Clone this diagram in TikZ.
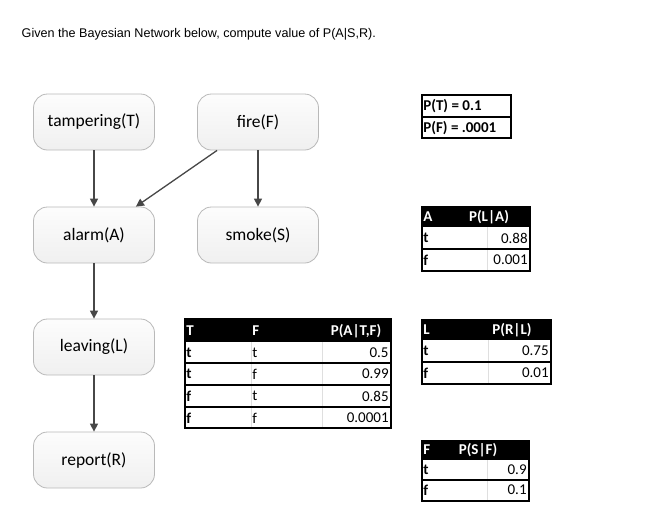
\documentclass[tikz,border=0pt]{standalone}
\usepackage{fontspec}
\setmainfont{Carlito}
\newfontfamily\titlefont{Liberation Sans}
\usetikzlibrary{arrows.meta}

\begin{document}
\begin{tikzpicture}[x=1pt,y=-1pt,thick,
        main node/.style={draw=gray!55,rounded corners=14pt,top color=gray!2,bottom color=gray!12,minimum width=121pt,minimum height=56pt,font=\fontsize{17.5}{20}\selectfont},
        link/.style={color=black!72,line width=1.3pt,-{Triangle[length=8pt,width=8pt]}},
        cell/.style={inner sep=1pt,font=\fontsize{15}{17}\selectfont},
        key/.style={cell,anchor=west,font=\fontsize{15}{17}\selectfont\bfseries},
        val/.style={cell,anchor=east},
        hd/.style={key,text=white},
        rule/.style={line width=1.3pt},
        grid line/.style={gray!25,line width=0.6pt}]
        \useasboundingbox[fill=white] (0,0) rectangle (666,528);

        \node[anchor=base west,font=\titlefont\fontsize{12.6}{15}\selectfont] at (18,37) (title) {Given the Bayesian Network below, compute value of P(A|S,R).};

        % network
        \node[main node] at (94,122) (t) {tampering(T)};
        \node[main node] at (258,122) (f) {fire(F)};
        \node[main node] at (94,235) (a) {alarm(A)};
        \node[main node] at (258,235) (s) {smoke(S)};
        \node[main node] at (94,347) (l) {leaving(L)};
        \node[main node] at (94,460) (r) {report(R)};

        \path[link]
            (t) edge (a)
            ([xshift=20pt]f.south west) edge ([xshift=-19pt]a.north east)
            (f) edge (s)
            (a) edge (l)
            (l) edge (r)
            ;

        % priors
        \draw[rule] (422,95) rectangle (511,138);
        \draw[rule] (422,117) -- (511,117);
        \node[key] at (422,106) (pt) {P(T) = 0.1};
        \node[key] at (422,128) (pf) {P(F) = .0001};

        % P(A|T,F)
        \fill (185,319) rectangle (391,342);
        \draw[grid line] (251,342) -- (251,428) (322,342) -- (322,428);
        \draw[rule] (185,319) rectangle (391,428);
        \foreach \y in {363,385,407} \draw[rule] (185,\y) -- (391,\y);
        \node[hd] at (185,331) (at) {T};
        \node[hd] at (251,331) (af) {F};
        \node[hd,anchor=center] at (356,331) (ah) {P(A|T,F)};
        \node[key] at (185,353) (a1) {t};
        \node[cell,anchor=west] at (251,353) (b1) {t};
        \node[val] at (390,353) (c1) {0.5};
        \node[key] at (185,374) (a2) {t};
        \node[cell,anchor=west] at (251,374) (b2) {f};
        \node[val] at (390,374) (c2) {0.99};
        \node[key] at (185,396) (a3) {f};
        \node[cell,anchor=west] at (251,396) (b3) {t};
        \node[val] at (390,396) (c3) {0.85};
        \node[key] at (185,418) (a4) {f};
        \node[cell,anchor=west] at (251,418) (b4) {f};
        \node[val] at (390,418) (c4) {0.0001};

        % P(L|A)
        \fill (422,207) rectangle (530,227);
        \draw[grid line] (487,227) -- (487,271);
        \draw[rule] (422,207) rectangle (530,271);
        \draw[rule] (422,249) -- (530,249);
        \node[hd] at (422,217) (lh) {A};
        \node[hd,anchor=center] at (489,217) (lp) {P(L|A)};
        \node[key] at (422,238) (l1) {t};
        \node[val] at (529,238) (lv1) {0.88};
        \node[key] at (422,260) (l2) {f};
        \node[val] at (529,260) (lv2) {0.001};

        % P(R|L)
        \fill (422,320) rectangle (551,340);
        \draw[grid line] (488,340) -- (488,384);
        \draw[rule] (422,320) rectangle (551,384);
        \draw[rule] (422,362) -- (551,362);
        \node[hd] at (422,330) (rh) {L};
        \node[hd,anchor=center] at (512,330) (rp) {P(R|L)};
        \node[key] at (422,351) (r1) {t};
        \node[val] at (550,351) (rv1) {0.75};
        \node[key] at (422,373) (r2) {f};
        \node[val] at (550,373) (rv2) {0.01};

        % P(S|F)
        \fill (422,441) rectangle (529,460);
        \draw[grid line] (487,460) -- (487,501);
        \draw[rule] (422,441) rectangle (529,501);
        \draw[rule] (422,480) -- (529,480);
        \node[hd] at (422,450) (sh) {F};
        \node[hd,anchor=center] at (478,450) (sp) {P(S|F)};
        \node[key] at (422,470) (s1) {t};
        \node[val] at (528,470) (sv1) {0.9};
        \node[key] at (422,490) (s2) {f};
        \node[val] at (528,490) (sv2) {0.1};
\end{tikzpicture}
\end{document}
